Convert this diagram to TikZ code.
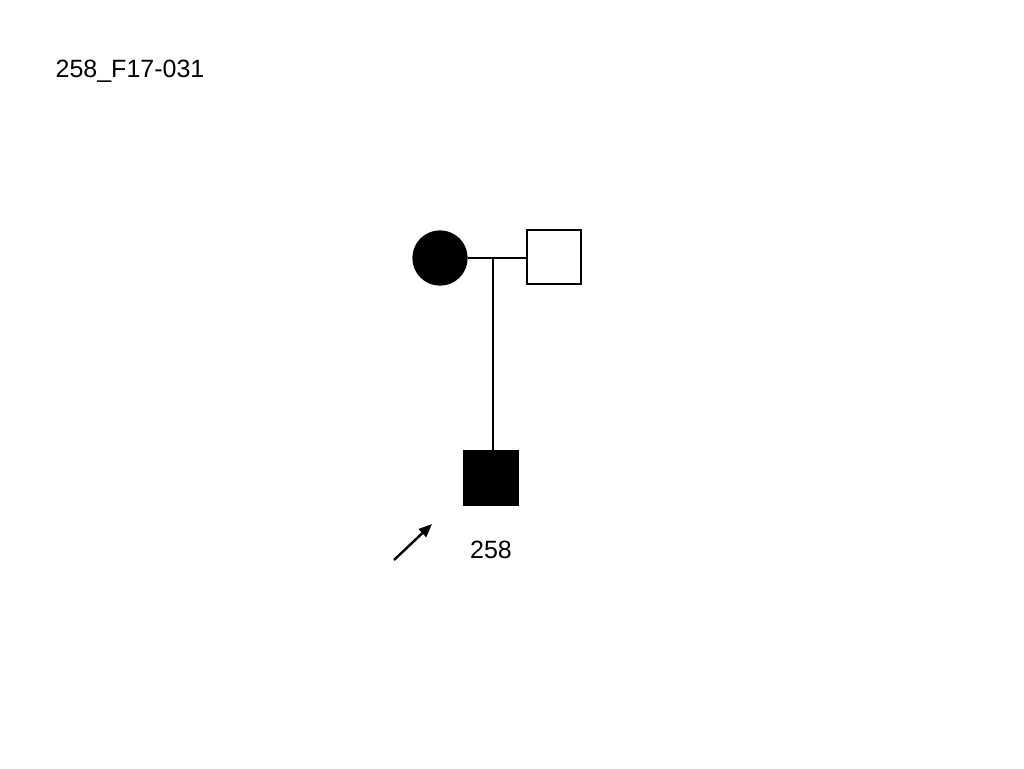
\documentclass[tikz,border=0pt]{standalone}
\usepackage{fontspec}
\setmainfont{Liberation Sans}
\usetikzlibrary{arrows.meta}

\begin{document}
\begin{tikzpicture}[
        x=0.75pt,
        y=-0.75pt,
        line width=1.5pt,
        every node/.style={
            inner sep=0pt,
            font=\fontsize{18.75}{22}\selectfont
        },
        female/.style={circle, draw, minimum size=40pt},
        male/.style={rectangle, draw, minimum size=40pt},
        affected/.style={fill=black}
    ]
        \useasboundingbox (0,0) rectangle (1024,768);

        % Title
        \node (title) at (130,71) {258\_F17-031};

        % Parents
        \node (mother) [female, affected] at (440,258) {};
        \node (father) [male] at (554,257) {};
        \coordinate (mid) at (493,258);

        % Proband
        \node (proband) [male, affected] at (491,478) {};
        \node (label) at (491,550) {258};
        \coordinate (tail) at (394,560);
        \coordinate (tip) at (432,524);

        % Lines
        \draw (mother) -- (mother -| father.west);
        \draw (mid) -- (mid |- proband.north);
        \draw[line width=1.8pt, -{Triangle[length=10pt, width=8pt]}] (tail) -- (tip);
    \end{tikzpicture}
\end{document}
